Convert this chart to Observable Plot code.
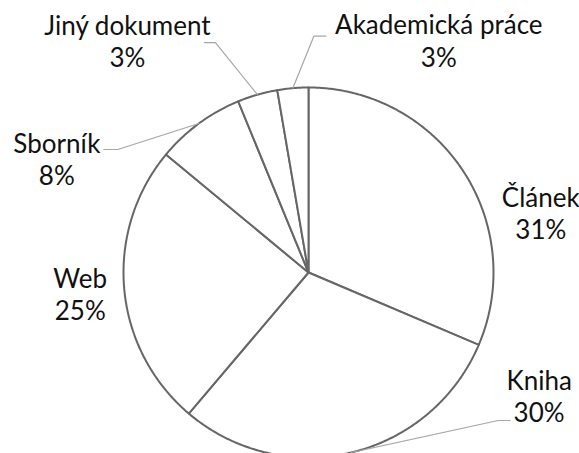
<!DOCTYPE html>
<html><head><meta charset="utf-8">
<script src="https://cdn.jsdelivr.net/npm/d3@7"></script>
<script src="https://cdn.jsdelivr.net/npm/@observablehq/plot@0.6"></script>
<style>html,body{margin:0;padding:0;background:#fff;overflow:hidden}</style>
</head><body><div id="chart"></div>
<script>
// ---- data ----
const categories = ["Článek", "Kniha", "Web", "Sborník", "Jiný dokument", "Akademická práce"];
const shares = [31.4, 29.8, 24.8, 7.8, 3.5, 2.7];
const percentLabels = ["31%", "30%", "25%", "8%", "3%", "3%"];

// ---- layout (pixels) ----
const W = 579, H = 453, CX = 308, CY = 272, R = 185;
const labelOffset = [[78, 42], [188, -57], [-44, 5], [-142, 35], [-130, -54], [146, -48]];
const leaderElbow = [null, [-41, 25], null, [61, -9], [88, 2], [-125, -4]];
const leaderEnd = [null, [-29, 25], null, [47, -9], [77, 2], [-113, -4]];

const total = d3.sum(shares);
let acc = 0;
const slices = categories.map((c, i) => {
  const a0 = acc / total * 2 * Math.PI;
  acc += shares[i];
  const a1 = acc / total * 2 * Math.PI;
  return {c, i, a0, a1, mid: (a0 + a1) / 2};
});

const polyPts = [];
slices.forEach(s => {
  polyPts.push({k: s.c, x: 0, y: 0});
  const n = Math.max(2, Math.ceil((s.a1 - s.a0) / (Math.PI / 360)));
  for (let j = 0; j <= n; j++) {
    const a = s.a0 + (s.a1 - s.a0) * j / n;
    polyPts.push({k: s.c, x: Math.sin(a), y: Math.cos(a)});
  }
  polyPts.push({k: s.c, x: 0, y: 0});
});

const labels = slices.map(s => {
  const rx = Math.sin(s.mid), ry = Math.cos(s.mid);
  const [dx, dy] = labelOffset[s.i];
  return {k: s.c, rx, ry, x: rx + dx / R, y: ry - dy / R, text: s.c + "\n" + percentLabels[s.i]};
});

const leaderPts = [];
labels.forEach((l, i) => {
  if (!leaderElbow[i]) return;
  leaderPts.push({k: l.k, x: l.rx, y: l.ry});
  leaderPts.push({k: l.k, x: l.x + leaderElbow[i][0] / R, y: l.y - leaderElbow[i][1] / R});
  leaderPts.push({k: l.k, x: l.x + leaderEnd[i][0] / R, y: l.y - leaderEnd[i][1] / R});
});

const chart = Plot.plot({
  width: W, height: H, margin: 0,
  x: {domain: [-CX / R, (W - CX) / R], range: [0, W], axis: null},
  y: {domain: [-(H - CY) / R, CY / R], range: [H, 0], axis: null},
  style: {background: "white", overflow: "hidden"},
  marks: [
    Plot.line(polyPts, {x: "x", y: "y", z: "k", fill: "white", stroke: "#666666", strokeWidth: 2, curve: "linear"}),
    Plot.line(leaderPts, {x: "x", y: "y", z: "k", stroke: "#a6a6a6", strokeWidth: 1.2, curve: "linear"}),
    Plot.text(labels, {x: "x", y: "y", text: "text", textAnchor: "middle", lineAnchor: "middle",
      lineHeight: 1.25, fontSize: 26, fontFamily: "Lato", fill: "#111"})
  ]
});
document.getElementById("chart").appendChild(chart);
</script>
</body></html>
